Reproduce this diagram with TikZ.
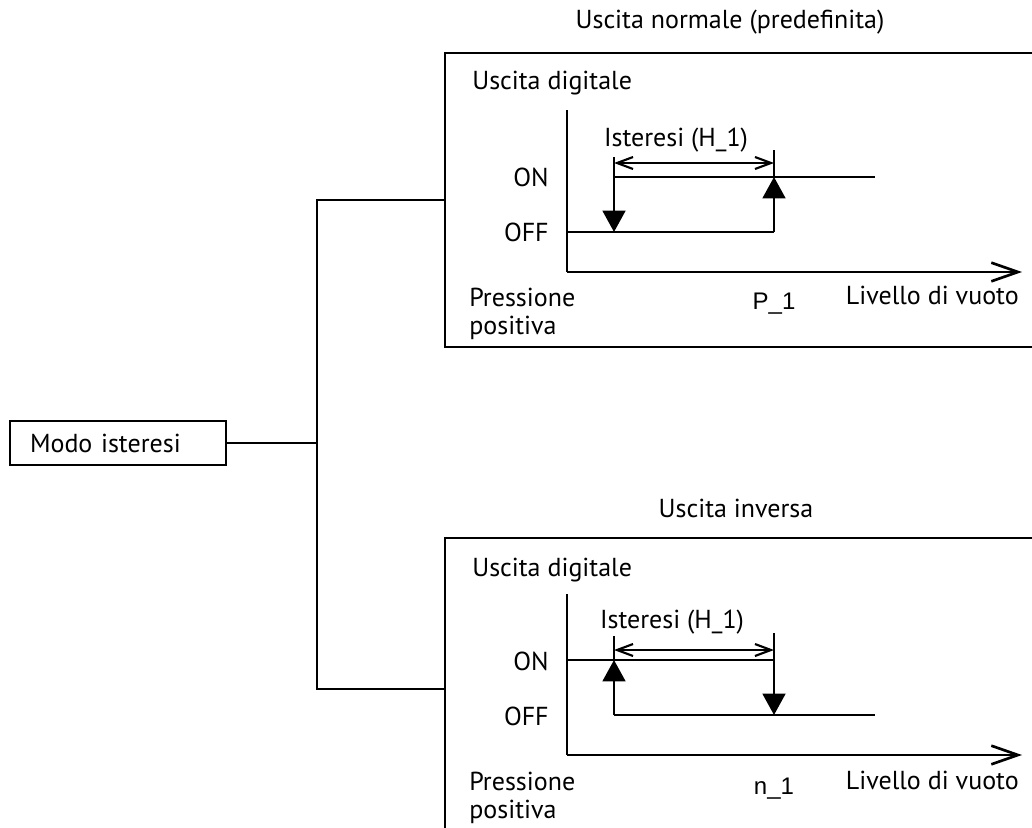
\documentclass[tikz,border=0pt]{standalone}
\usepackage{fontspec}
\setmainfont{PT Sans}
\newfontfamily\valfont{Liberation Sans}
\usetikzlibrary{positioning,fit,arrows.meta}

\begin{document}
\begin{tikzpicture}[
    x=0.75pt, y=-0.75pt,
    font=\fontsize{19.5}{21}\selectfont,
    line width=2pt,
    panel/.style   = {draw, line width=2pt, inner sep=0pt},
    modebox/.style = {draw, line width=2pt, text width=132pt, inner xsep=15pt,
                      minimum height=33pt, align=left},
    lbl/.style     = {inner sep=0pt},
    val/.style     = {inner sep=0pt, font=\valfont\fontsize{18}{20}\selectfont},
    sw/.style      = {-{Triangle[length=16pt, width=17pt]}},
    dim/.style     = {{Straight Barb[length=12pt, width=9pt]}-{Straight Barb[length=12pt, width=9pt]},
                      line width=1.6pt},
    ax/.style      = {-{Straight Barb[length=20pt, width=14pt]}},
]
\useasboundingbox (0,0) rectangle (1032,828);
\clip (0,0) rectangle (1032,828);

%============================ MODE ==================================
\node[modebox] (modo) at (118,443) {Modo isteresi};
\coordinate (jn) at (317,443);

%======================= NORMAL OUTPUT ==============================
\node[panel, fit={(445,53) (1100,347)}] (top) {};
\node[lbl] (ttop) at (730,22) {Uscita normale (predefinita)};
\node[lbl, anchor=west] (ytop) at (471,83) {Uscita digitale};
\node[lbl, anchor=east] (on1) at (550,177) {ON};
\node[lbl, anchor=east] (off1) at (550,232) {OFF};
\node[lbl, anchor=north west, align=left] (pp1) at (468,287) {Pressione\\positiva};
\node[lbl, anchor=base east] (lv1) at (1020,304) {Livello di vuoto};
\node[val, anchor=base] (p1) at (774,309) {P\_1};
\node[lbl] (is1) at (676,140) {Isteresi (H\_1)};

\coordinate (o1) at (567,272);
\coordinate (a1) at (614,177);
\coordinate (b1) at (774,232);
\draw (567,110) -- (o1);
\draw[ax] (o1) -- (1022,272);
\draw (o1 |- b1) -- (b1);
\draw[sw] (b1) -- (b1 |- a1);
\draw (a1) -- (875,177);
\draw[sw] (a1) -- (a1 |- b1);
% hysteresis span
\draw (614,157) -- (a1);
\draw (774,150) -- (b1 |- a1);
\draw[dim] (614,163) -- (774,163);

%======================= INVERSE OUTPUT =============================
\node[panel, fit={(445,538) (1100,840)}] (bot) {};
\node[lbl] (tbot) at (736,508) {Uscita inversa};
\node[lbl, anchor=west] (ybot) at (471,570) {Uscita digitale};
\node[lbl, anchor=east] (on2) at (550,661) {ON};
\node[lbl, anchor=east] (off2) at (550,716) {OFF};
\node[lbl, anchor=north west, align=left] (pp2) at (468,771) {Pressione\\positiva};
\node[lbl, anchor=base east] (lv2) at (1020,789) {Livello di vuoto};
\node[val, anchor=base] (n2) at (774,794) {n\_1};
\node[lbl] (is2) at (672,622) {Isteresi (H\_1)};

\coordinate (o2) at (567,755);
\coordinate (a2) at (614,715);
\coordinate (b2) at (774,660);
\draw (567,594) -- (o2);
\draw[ax] (o2) -- (1022,755);
\draw (o2 |- b2) -- (b2);
\draw[sw] (b2) -- (b2 |- a2);
\draw (a2) -- (875,715);
\draw[sw] (a2) -- (a2 |- b2);
% hysteresis span
\draw (614,636) -- (a2 |- b2);
\draw (774,633) -- (b2);
\draw[dim] (614,650) -- (774,650);

%============================ BRANCHES ==============================
\draw (modo.east) -- (jn);
\draw (top.west) -| (jn) |- (bot.west);

\end{tikzpicture}
\end{document}
